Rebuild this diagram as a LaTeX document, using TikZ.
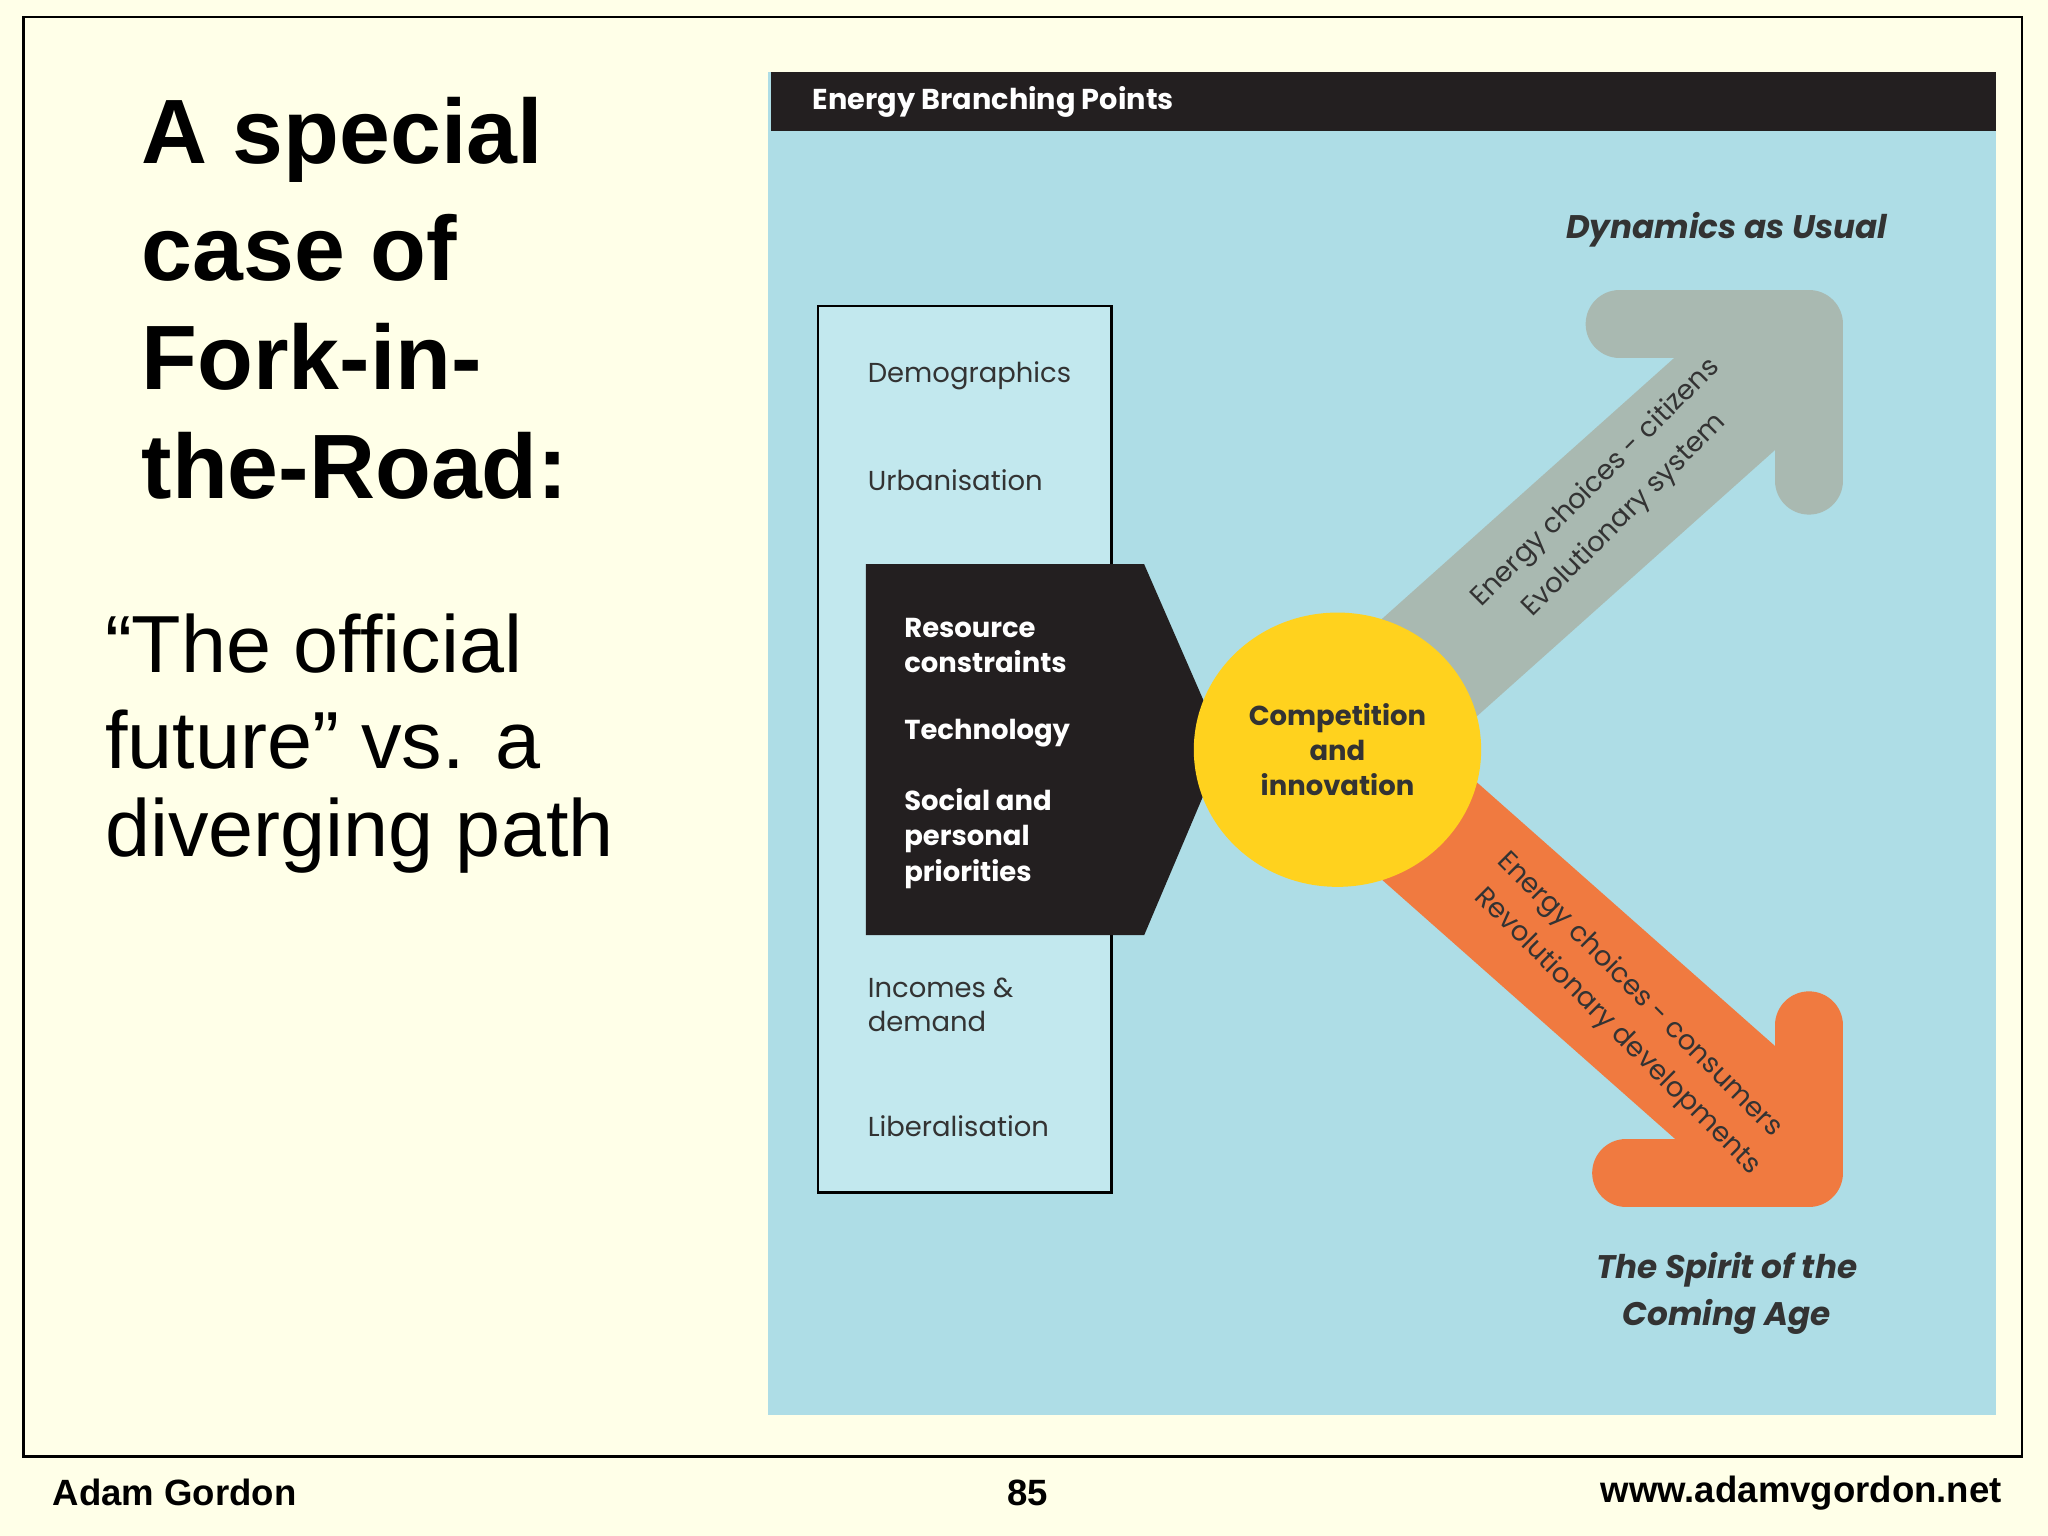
\documentclass[tikz,border=0pt]{standalone}
\usetikzlibrary{shapes.geometric}
\usepackage{fontspec}
\setmainfont{Liberation Sans}
\newfontfamily\dfont{Poppins}
\definecolor{cream}{HTML}{FFFFE8}
\definecolor{panel}{HTML}{AEDDE6}
\definecolor{lbox}{HTML}{C2E8EE}
\definecolor{blk}{HTML}{231F20}
\definecolor{yel}{HTML}{FFD21E}
\definecolor{gry}{HTML}{A9B9B1}
\definecolor{org}{HTML}{F07A40}
\definecolor{dtxt}{HTML}{333333}
\tikzset{
 lbl/.style={anchor=west,inner sep=0,font=\dfont\fontsize{10.5}{13}\selectfont,text=dtxt},
 wlbl/.style={anchor=west,inner sep=0,align=left,font=\dfont\bfseries\fontsize{10.5}{13.5}\selectfont,text=white},
 alab/.style={inner sep=0,font=\dfont\fontsize{10.5}{13}\selectfont,text=dtxt},
 ttl/.style={anchor=west,inner sep=0,font=\bfseries\fontsize{35}{42}\selectfont},
 sub/.style={anchor=west,inner sep=0,font=\fontsize{31}{37}\selectfont},
 foot/.style={inner sep=0,font=\bfseries\fontsize{14}{16}\selectfont},
 scen/.style={inner sep=0,align=center,font=\dfont\bfseries\itshape\fontsize{12.5}{18}\selectfont,text=dtxt}
}
\begin{document}
\begin{tikzpicture}[x=0.5pt,y=-0.5pt]
\fill[cream] (0,0) rectangle (1568,1176);
\useasboundingbox (0,0) rectangle (1568,1176);
\draw[line width=1pt] (18,13) rectangle (1548,1115);
% left text
\node[ttl] (t1) at (108,107) {A special};
\node[ttl] (t2) at (108,190) {case of};
\node[ttl] (t3) at (108,273) {Fork-in-};
\node[ttl] (t4) at (108,357) {the-Road:};
\node[sub] (s1) at (80,493) {“The official};
\node[sub] (s2) at (80,566) {future” vs. a};
\node[sub] (s3) at (80,640) {diverging path};
\node[foot,anchor=west] (f1) at (40,1143) {Adam Gordon};
\node[foot] (f2) at (787,1143) {85};
\node[foot,anchor=east] (f3) at (1533,1143) {www.adamvgordon.net};
% panel
\fill[panel] (588,55) rectangle (1528,1083);
\fill[blk] (590,55) rectangle (1528,100);
\node[anchor=west,inner sep=0,text=white,font=\dfont\bfseries\fontsize{11}{13}\selectfont] (hd) at (622,78) {Energy Branching Points};
\draw[fill=lbox,line width=0.8pt] (626,234) rectangle (851,913);
\node[lbl] (d1) at (664,288) {Demographics};
\node[lbl] (d2) at (664,368) {Urbanisation};
\node[lbl,align=left] (d3) at (664,769) {Incomes \&\\demand};
\node[lbl] (d4) at (664,862) {Liberalisation};
% arrows
\draw[gry,line width=52pt] (1024,574) -- (1370,265);
\draw[gry,line width=26pt,line cap=round,line join=round] (1240,248) -- (1385,248) -- (1385,368);
\draw[org,line width=52pt] (1024,574) -- (1370,880);
\draw[org,line width=26pt,line cap=round,line join=round] (1245,898) -- (1385,898) -- (1385,785);
% black block
\fill[blk] (663,432) -- (876,432) -- (937,572) -- (876,716) -- (663,716) -- cycle;
\node[wlbl] (b1) at (692,494) {Resource\\constraints};
\node[wlbl] (b2) at (692,561) {Technology};
\node[wlbl] (b3) at (692,642) {Social and\\personal\\priorities};
% circle
\node[ellipse,fill=yel,minimum width=110pt,minimum height=105pt,inner sep=0] (c) at (1024,574) {};
\node[inner sep=0,align=center,text=dtxt,font=\dfont\bfseries\fontsize{10.5}{13.5}\selectfont] (ct) at (c) {Competition\\and\\innovation};
% arrow labels
\node[alab,rotate=45] (g1) at (1222,370) {Energy choices - citizens};
\node[alab,rotate=45] (g2) at (1244,395) {Evolutionary system};
\node[alab,rotate=-45] (o1) at (1255,762) {Energy choices - consumers};
\node[alab,rotate=-45] (o2) at (1238,790) {Revolutionary developments};
\node[scen] (sc1) at (1322,176) {Dynamics as Usual};
\node[scen] (sc2) at (1322,990) {The Spirit of the\\Coming Age};
\end{tikzpicture}
\end{document}
